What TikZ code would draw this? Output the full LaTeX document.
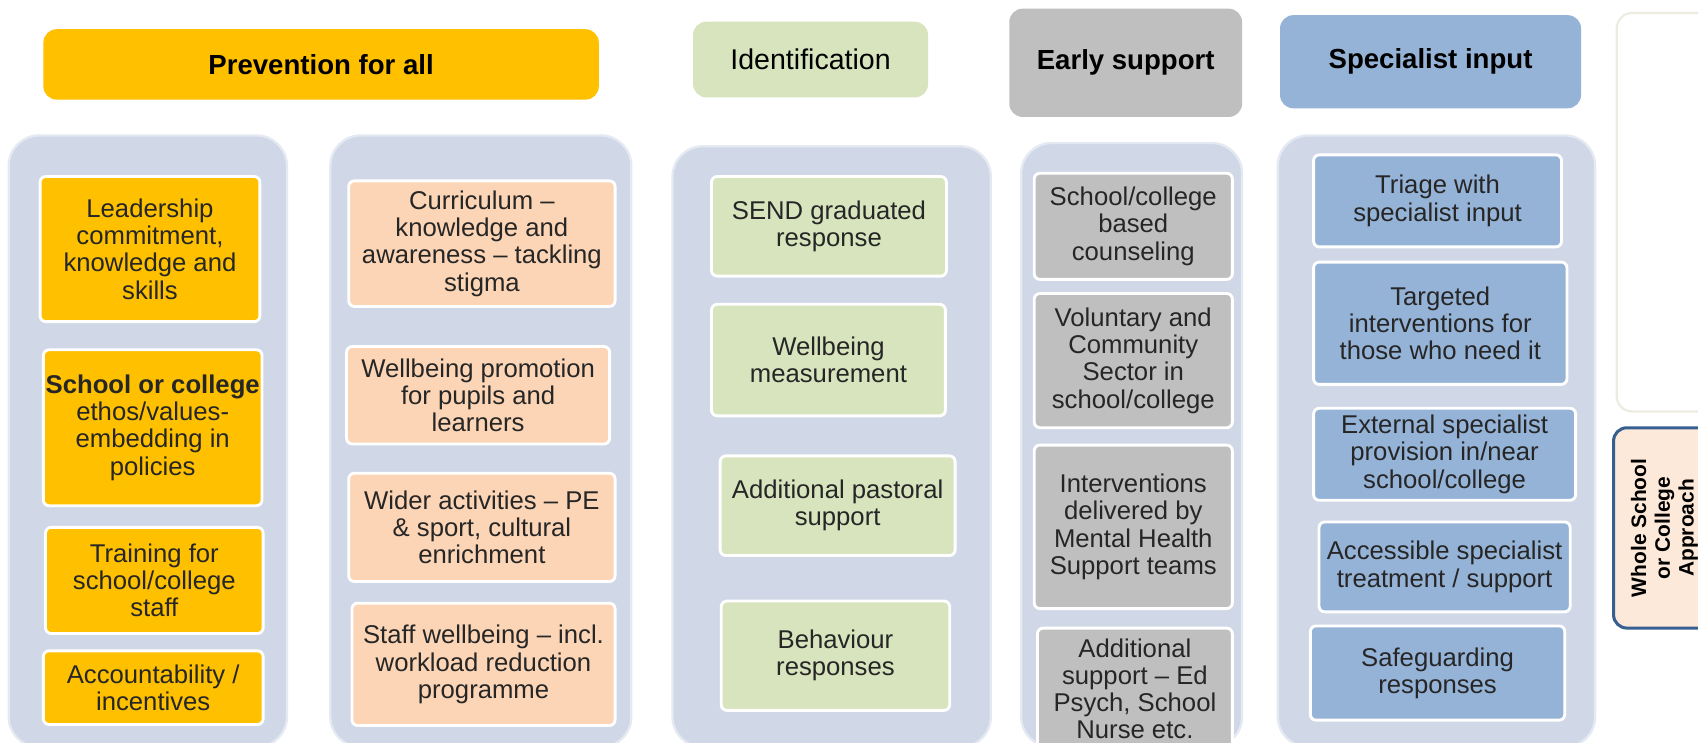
\documentclass[tikz,border=0pt]{standalone}
\usepackage{fontspec}
\setmainfont{Liberation Sans}
\usetikzlibrary{positioning}
\definecolor{prevyellow}{HTML}{FFC000}
\definecolor{prevpeach}{HTML}{FBD5B5}
\definecolor{identgreen}{HTML}{D7E4BD}
\definecolor{earlygrey}{HTML}{BFBFBF}
\definecolor{specblue}{HTML}{95B3D7}
\definecolor{panelfill}{HTML}{D0D8E8}
\definecolor{paneledge}{HTML}{E4E9F2}
\definecolor{wholeedge}{HTML}{376092}
\definecolor{wholefill}{HTML}{FDE9D9}
\definecolor{blankedge}{HTML}{EEECE1}

\begin{document}
\begin{tikzpicture}[x=0.02cm, y=-0.02cm,
		header/.style={rounded corners=7pt, inner sep=0pt, font=\fontsize{14.5}{17}\selectfont\bfseries},
		panel/.style={fill=panelfill, draw=paneledge, line width=1.2pt, rounded corners=16pt, inner sep=0pt},
		itembox/.style={draw=white, line width=1.5pt, rounded corners=3pt, inner sep=0pt, align=center, text=black!85, font=\fontsize{13.5}{14.3}\selectfont}]
		\fill[white] (0,0) rectangle (1568,686);
		\clip (0,0) rectangle (1568,686);

		% Headers
		\node[header, fill=prevyellow, minimum width=10.26cm, minimum height=1.30cm] (prev) at (296.5,59.5) {Prevention for all};
		\node[header, fill=identgreen, font=\fontsize{15}{17}\selectfont, minimum width=4.34cm, minimum height=1.40cm] (ident) at (748.5,55) {Identification};
		\node[header, fill=earlygrey, minimum width=4.30cm, minimum height=2.00cm] (early) at (1039.5,58) {Early support};
		\node[header, fill=specblue, minimum width=5.56cm, minimum height=1.72cm] (spec) at (1321,57) {Specialist input};

		% Panels
		\node[panel, minimum width=5.14cm, minimum height=11.30cm] (panA) at (136.5,407.5) {};
		\node[panel, minimum width=5.56cm, minimum height=11.30cm] (panB) at (444,407.5) {};
		\node[panel, minimum width=5.88cm, minimum height=11.10cm] (panC) at (768,412.5) {};
		\node[panel, minimum width=4.08cm, minimum height=11.16cm] (panD) at (1045,411) {};
		\node[panel, minimum width=5.86cm, minimum height=11.30cm] (panE) at (1326.5,407.5) {};

		% Prevention for all
		\node[itembox, fill=prevyellow, minimum width=4.06cm, minimum height=2.68cm] (lead) at (138.5,230) {Leadership\\ commitment,\\ knowledge and\\ skills};
		\node[itembox, fill=prevyellow, minimum width=4.04cm, minimum height=2.88cm] (ethos) at (141,395) {\textbf{School or college}\\ ethos/values-\\ embedding in\\ policies};
		\node[itembox, fill=prevyellow, minimum width=4.02cm, minimum height=1.96cm] (train) at (142.5,536) {Training for\\ school/college\\ staff};
		\node[itembox, fill=prevyellow, minimum width=4.06cm, minimum height=1.36cm] (account) at (141.5,635) {Accountability /\\ incentives};

		\node[itembox, fill=prevpeach, minimum width=4.92cm, minimum height=2.32cm] (curric) at (445,225) {Curriculum --\\ knowledge and\\ awareness -- tackling\\ stigma};
		\node[itembox, fill=prevpeach, minimum width=4.86cm, minimum height=1.80cm] (promo) at (441.5,365) {Wellbeing promotion\\ for pupils and\\ learners};
		\node[itembox, fill=prevpeach, minimum width=4.92cm, minimum height=2.00cm] (wider) at (445,487) {Wider activities -- PE\\ \& sport, cultural\\ enrichment};
		\node[itembox, fill=prevpeach, minimum width=4.86cm, minimum height=2.26cm] (staffwb) at (446.5,613.5) {Staff wellbeing -- incl.\\ workload reduction\\ programme};

		% Identification
		\node[itembox, fill=identgreen, minimum width=4.34cm, minimum height=1.84cm] (send) at (765.5,209) {SEND graduated\\ response};
		\node[itembox, fill=identgreen, minimum width=4.32cm, minimum height=2.06cm] (measure) at (765,332.5) {Wellbeing\\ measurement};
		\node[itembox, fill=identgreen, minimum width=4.34cm, minimum height=1.84cm] (pastoral) at (773.5,467) {Additional pastoral\\ support};
		\node[itembox, fill=identgreen, minimum width=4.22cm, minimum height=2.02cm] (behav) at (771.5,605.5) {Behaviour\\ responses};

		% Early support
		\node[itembox, fill=earlygrey, minimum width=3.66cm, minimum height=1.96cm] (counsel) at (1046.5,209) {School/college\\ based\\ counseling};
		\node[itembox, fill=earlygrey, minimum width=3.66cm, minimum height=2.48cm] (vcs) at (1046.5,333) {Voluntary and\\ Community\\ Sector in\\ school/college};
		\node[itembox, fill=earlygrey, minimum width=3.66cm, minimum height=3.02cm] (mhst) at (1046.5,486.5) {Interventions\\ delivered by\\ Mental Health\\ Support teams};
		\node[itembox, fill=earlygrey, minimum width=3.60cm, minimum height=2.24cm] (addsup) at (1048,636) {Additional\\ support -- Ed\\ Psych, School\\ Nurse etc.};

		% Specialist input
		\node[itembox, fill=specblue, minimum width=4.58cm, minimum height=1.70cm] (triage) at (1327.5,185.5) {Triage with\\ specialist input};
		\node[itembox, fill=specblue, minimum width=4.68cm, minimum height=2.26cm] (target) at (1330,298.5) {Targeted\\ interventions for\\ those who need it};
		\node[itembox, fill=specblue, minimum width=4.84cm, minimum height=1.70cm] (external) at (1334,419.5) {External specialist\\ provision in/near\\ school/college};
		\node[itembox, fill=specblue, minimum width=4.64cm, minimum height=1.66cm] (access) at (1334,523.5) {Accessible specialist\\ treatment / support};
		\node[itembox, fill=specblue, minimum width=4.70cm, minimum height=1.74cm] (safe) at (1327.5,621.5) {Safeguarding\\ responses};

		% Whole school side
		\node[draw=blankedge, fill=white, line width=1.2pt, rounded corners=8pt, minimum width=2.54cm, minimum height=7.36cm] (blank) at (1556.5,196) {};
		\node[draw=wholeedge, fill=wholefill, line width=1.6pt, rounded corners=7pt, minimum width=1.88cm, minimum height=3.70cm] (whole) at (1537,487.5) {};
		\node[rotate=90, align=center, font=\fontsize{11}{12.5}\selectfont\bfseries] (wholetext) at (whole.center) {Whole School\\ or College\\ Approach};
	\end{tikzpicture}
\end{document}
